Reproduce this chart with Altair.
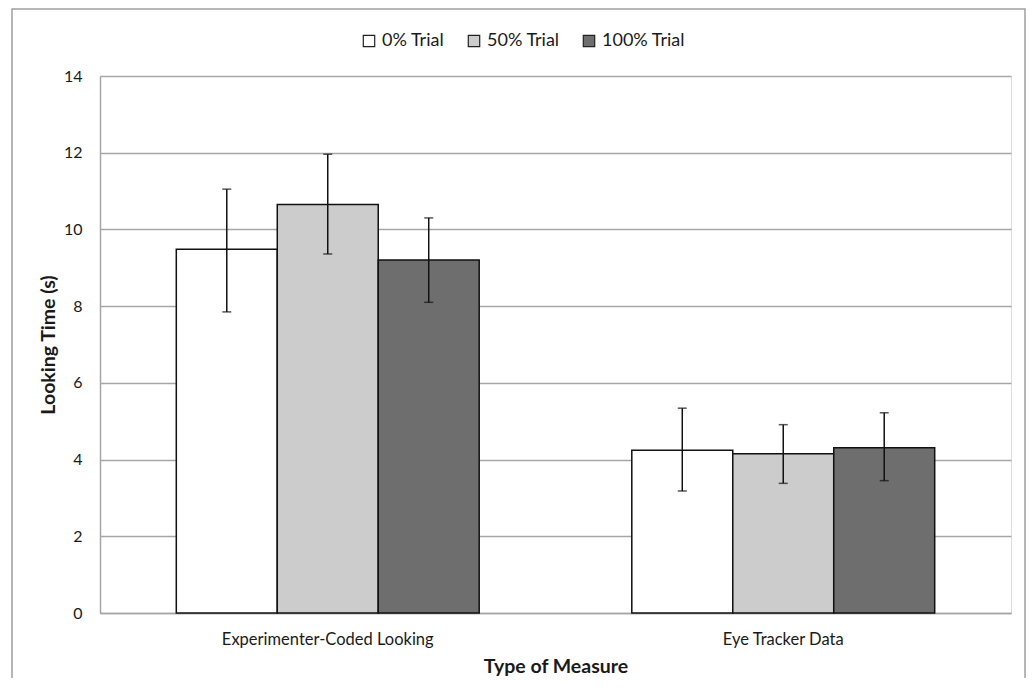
import altair as alt
import pandas as pd

measures = ["Experimenter-Coded Looking", "Eye Tracker Data"]
trials = ["0% Trial", "50% Trial", "100% Trial"]
means = [[9.48, 10.65, 9.20], [4.24, 4.15, 4.31]]
upper = [[11.05, 11.96, 10.30], [5.34, 4.91, 5.22]]
lower = [[7.85, 9.36, 8.10], [3.18, 3.38, 3.45]]
colors = ["#ffffff", "#cccccc", "#6e6e6e"]
y_ticks = [0, 2, 4, 6, 8, 10, 12, 14]

rows = []
for i, m in enumerate(measures):
    for j, t in enumerate(trials):
        rows.append(dict(measure=m, trial=t, mean=means[i][j], hi=upper[i][j], lo=lower[i][j]))
df = pd.DataFrame(rows)

FONT = "Lato"
TXT = "#1a1a1a"
GRID = "#a6a6a6"

x = alt.X(
    "measure:N",
    sort=measures,
    title="Type of Measure",
    scale=alt.Scale(paddingInner=0.335, paddingOuter=0.1675),
    axis=alt.Axis(
        labelAngle=0, ticks=False, domainColor=GRID, domainWidth=1.5,
        labelFontSize=16.5, labelColor=TXT, labelPadding=18, labelLimit=500,
        titleFontSize=19.5, titleFontWeight="bold", titleColor=TXT, titlePadding=10,
    ),
)
xo = alt.XOffset("trial:N", sort=trials, scale=alt.Scale(paddingInner=0, paddingOuter=0))
y_axis = alt.Axis(
    values=y_ticks, ticks=False, domainColor=GRID, domainWidth=1.5,
    grid=True, gridColor=GRID, gridWidth=1.5,
    labelFontSize=16, labelColor=TXT, labelPadding=18,
    titleFontSize=19.5, titleFontWeight="bold", titleColor=TXT, titlePadding=5,
)

base = alt.Chart(df)

bars = base.mark_bar(stroke="#111111", strokeWidth=1.5).encode(
    x=x,
    xOffset=xo,
    y=alt.Y("mean:Q", title="Looking Time (s)", scale=alt.Scale(domain=[0, 14], nice=False), axis=y_axis),
    fill=alt.Fill(
        "trial:N", sort=trials,
        scale=alt.Scale(domain=trials, range=colors),
        legend=alt.Legend(
            title=None, orient="none", direction="horizontal",
            legendX=260, legendY=-44, symbolType="square", symbolSize=130,
            symbolStrokeColor="#222222", symbolStrokeWidth=1.2,
            labelFontSize=18, labelColor=TXT, labelOffset=4, columnPadding=20,
            padding=0, labelLimit=300,
        ),
    ),
)

rules = base.mark_rule(color="#111111", strokeWidth=1.5).encode(
    x=alt.X("measure:N", sort=measures),
    xOffset=alt.XOffset("trial:N", sort=trials),
    y="lo:Q",
    y2="hi:Q",
)
caps_hi = base.mark_tick(color="#111111", thickness=1.5, size=9, orient="horizontal").encode(
    x=alt.X("measure:N", sort=measures),
    xOffset=alt.XOffset("trial:N", sort=trials),
    y="hi:Q",
)
caps_lo = base.mark_tick(color="#111111", thickness=1.5, size=9, orient="horizontal").encode(
    x=alt.X("measure:N", sort=measures),
    xOffset=alt.XOffset("trial:N", sort=trials),
    y="lo:Q",
)

frame = alt.Chart(pd.DataFrame({"f": [0]})).mark_rect(
    fillOpacity=0, stroke="#a0a0a0", strokeWidth=1.5, clip=False
).encode(
    x=alt.value(-88), x2=alt.value(925), y=alt.value(-67), y2=alt.value(700)
)

chart = (
    alt.layer(frame, bars, rules, caps_hi, caps_lo)
    .properties(
        width=911, height=537,
        autosize=alt.AutoSizeParams(type="none"),
        padding={"left": 92, "top": 68, "right": 15, "bottom": 65},
        background="white",
    )
    .configure_view(stroke=None)
    .configure(font=FONT)
)

chart.save("out.html", embed_options={"renderer": "svg", "actions": False})
